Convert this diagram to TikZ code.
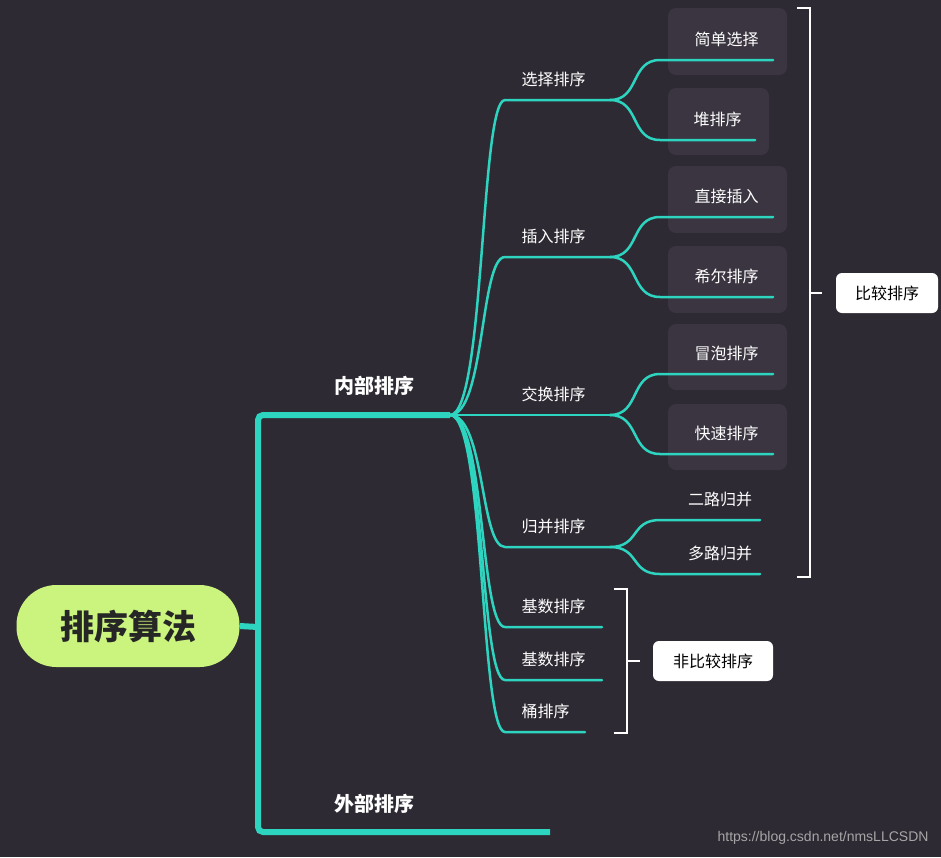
\documentclass[tikz,border=0pt]{standalone}
\usepackage{fontspec}
\setmainfont{Noto Sans CJK SC}
\begin{document}
\begin{tikzpicture}[x=1pt,y=-1pt]
\definecolor{bg}{HTML}{2E2A33}
\definecolor{tl}{HTML}{2DD4BF}
\definecolor{bx}{HTML}{3A3540}
\definecolor{rt}{HTML}{CBF47E}
\tikzset{lbl/.style={text=white,font=\fontsize{16}{18}\selectfont},
 leafbox/.style={fill=bx,rounded corners=8pt,draw=none},
 ln/.style={draw=tl,line width=2.5pt,line cap=round},
 brk/.style={draw=white,line width=1.5pt},
 tag/.style={fill=white,rounded corners=6pt,text=black,font=\fontsize{16}{18}\selectfont,minimum height=40pt}}
\fill[bg] (0,0) rectangle (941,857);
\foreach \a/\b/\r in {8/75/787,88/155/769,166/233/787,246/313/787,324/390/787,404/470/787}
 \fill[leafbox] (668,\a) rectangle (\r,\b);
\node[fill=rt,rounded corners=40pt,minimum width=223pt,minimum height=82pt,font=\bfseries\fontsize{34}{36}\selectfont,text=black!85] (root) at (128,626) {排序算法};
\coordinate (t0) at (258,627);
\draw[tl,line width=6pt] (root.east) -- (t0);
\draw[tl,line width=6pt,rounded corners=5pt] (450,415) -- (258,415) -- (258,832) -- (550,832);
\node[text=white,font=\bfseries\fontsize{20}{22}\selectfont] (nb) at (374,386) {内部排序};
\node[text=white,font=\bfseries\fontsize{20}{22}\selectfont] (wb) at (374,804) {外部排序};
\coordinate (h) at (450,415);
\foreach \y/\e/\t/\n in {100/610/选择排序/s1,257/610/插入排序/s2,415/610/交换排序/s3,547/610/归并排序/s4,627/602/基数排序/s5,680/602/基数排序/s6,732/585/桶排序/s7}{
 \coordinate (\n a) at (505,\y);
 \coordinate (\n) at (\e,\y);
 \draw[ln] (h) .. controls (485,415) and (480,\y) .. (\n a) -- (\n);
 \node[lbl,anchor=west] at (518,\y-21) {\t};
}
\foreach \p/\py/\y/\e/\t in {s1/100/60/773/简单选择,s1/100/140/755/堆排序,s2/257/217/773/直接插入,s2/257/297/773/希尔排序,s3/415/374/773/冒泡排序,s3/415/454/773/快速排序,s4/547/520/760/二路归并,s4/547/574/760/多路归并}{
 \coordinate (q) at (660,\y);
 \draw[ln] (\p) .. controls (640,\py) and (630,\y) .. (q) -- (\e,\y);
 \node[lbl] at (\e/2+340,\y-21) {\t};
}
\draw[brk] (797,8) -- (810,8) -- (810,577) -- (797,577);
\draw[brk] (810,293) -- (822,293);
\node[tag,minimum width=102pt] (c1) at (887,293) {比较排序};
\draw[brk] (614,589) -- (627,589) -- (627,733) -- (614,733);
\draw[brk] (627,661) -- (640,661);
\node[tag,minimum width=120pt] (c2) at (713,661) {非比较排序};
\node[text=gray!70,font=\fontsize{14}{15}\selectfont\fontspec{Liberation Sans},anchor=east] (wm) at (932,838) {https://blog.csdn.net/nmsLLCSDN};
\end{tikzpicture}
\end{document}
